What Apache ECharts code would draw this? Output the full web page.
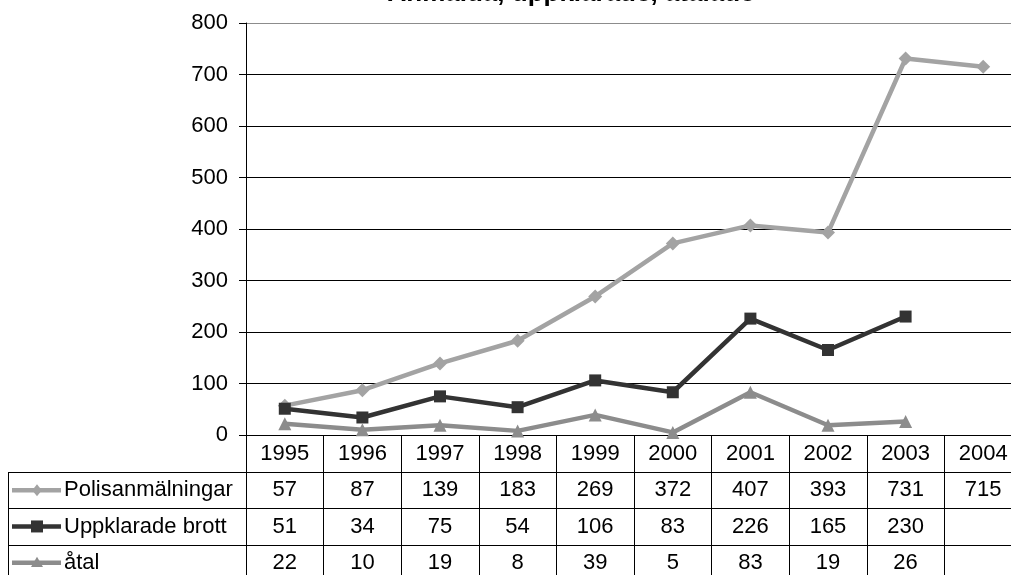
<!DOCTYPE html>
<html>
<head>
<meta charset="utf-8">
<script src="https://cdn.jsdelivr.net/npm/echarts@6/dist/echarts.min.js"></script>
<style>
  html, body { margin: 0; padding: 0; background: #fff; }
  #chart { width: 1011px; height: 575px; }
</style>
</head>
<body>
<div id="chart"></div>
<script>
// Anmälda, uppklarade och åtalade brott per år
const years = ['1995','1996','1997','1998','1999','2000','2001','2002','2003','2004'];
const polisanmalningar = [57, 87, 139, 183, 269, 372, 407, 393, 731, 715];
const uppklarade = [51, 34, 75, 54, 106, 83, 226, 165, 230, null];
const atal = [22, 10, 19, 8, 39, 5, 83, 19, 26, null];
const yTicks = [0, 100, 200, 300, 400, 500, 600, 700, 800];

const FONT = '"Liberation Sans", Arial, sans-serif';
const FS = 22;

const seriesDefs = [
  { name: 'Polisanmälningar', data: polisanmalningar, color: '#a3a3a3', symbol: 'diamond', size: 14 },
  { name: 'Uppklarade brott', data: uppklarade, color: '#333333', symbol: 'rect', size: 12 },
  { name: 'åtal', data: atal, color: '#8c8c8c', symbol: 'triangle', size: 13 }
];

const chart = echarts.init(document.getElementById('chart'), null, { renderer: 'canvas' });

const option = {
  animation: false,
  backgroundColor: '#ffffff',
  textStyle: { fontFamily: FONT },
  grid: { left: 246, top: 23, width: 776, height: 412, containLabel: false, outerBoundsMode: 'none' },
  xAxis: {
    type: 'category',
    data: years,
    boundaryGap: true,
    axisLine: { show: true, lineStyle: { color: '#000', width: 1 } },
    axisTick: { show: true, length: 145, inside: false, lineStyle: { color: '#000', width: 1 } },
    axisLabel: { show: true, margin: 8, fontSize: FS, color: '#000', fontFamily: FONT, interval: 0 },
    splitLine: { show: false }
  },
  yAxis: {
    type: 'value',
    min: 0,
    max: 800,
    interval: 100,
    axisLine: { show: true, lineStyle: { color: '#000', width: 1 } },
    axisTick: { show: true, length: 7, lineStyle: { color: '#000' } },
    axisLabel: { margin: 18, fontSize: FS, color: '#000', fontFamily: FONT },
    splitLine: {
      show: true,
      lineStyle: {
        width: 1,
        color: yTicks.map(v => v === 800 ? '#8c8c8c' : '#000')
      }
    }
  },
  series: seriesDefs.map(s => ({
    name: s.name,
    type: 'line',
    data: s.data,
    symbol: s.symbol,
    symbolSize: s.size,
    showSymbol: true,
    connectNulls: false,
    lineStyle: { color: s.color, width: 4.5 },
    itemStyle: { color: s.color },
    emphasis: { disabled: true }
  }))
};

chart.setOption(option);

// Data table below the plot, laid out on the category axis positions
function buildTable() {
  const c0 = chart.convertToPixel({ xAxisIndex: 0 }, years[0]);
  const c1 = chart.convertToPixel({ xAxisIndex: 0 }, years[1]);
  const step = c1 - c0;
  const xStart = c0 - step / 2;
  const xEnd = xStart + step * years.length;
  const yAxis0 = chart.convertToPixel({ yAxisIndex: 0 }, 0);
  const rowH = 36.3;
  const headerBottom = yAxis0 + 37;
  const tableLeft = 8;
  const els = [];
  const lineStyle = { stroke: '#000', lineWidth: 1 };

  // horizontal rules for the series rows
  for (let i = 0; i <= seriesDefs.length; i++) {
    const y = Math.round(headerBottom + i * rowH) + 0.5;
    els.push({ type: 'line', shape: { x1: tableLeft, y1: y, x2: xEnd + 20, y2: y }, style: lineStyle, silent: true });
  }
  // left border of the legend column
  els.push({ type: 'line', shape: { x1: tableLeft + 0.5, y1: Math.round(headerBottom), x2: tableLeft + 0.5, y2: 600 }, style: lineStyle, silent: true });

  seriesDefs.forEach((s, r) => {
    const yc = headerBottom + r * rowH + rowH / 2;
    // legend key: line with marker
    els.push({ type: 'line', shape: { x1: 12, y1: yc, x2: 61, y2: yc }, style: { stroke: s.color, lineWidth: 4.5 }, silent: true });
    const mx = 37, m = 6;
    if (s.symbol === 'diamond') {
      els.push({ type: 'polygon', shape: { points: [[mx, yc - m], [mx + m * 0.8, yc], [mx, yc + m], [mx - m * 0.8, yc]] }, style: { fill: s.color }, silent: true });
    } else if (s.symbol === 'rect') {
      els.push({ type: 'rect', shape: { x: mx - m, y: yc - m, width: 2 * m, height: 2 * m }, style: { fill: s.color }, silent: true });
    } else {
      els.push({ type: 'polygon', shape: { points: [[mx, yc - m], [mx + m, yc + m * 0.7], [mx - m, yc + m * 0.7]] }, style: { fill: s.color }, silent: true });
    }
    els.push({
      type: 'text', x: 64, y: yc, silent: true,
      style: { text: s.name, fontSize: FS, fontFamily: FONT, fill: '#000', verticalAlign: 'middle', align: 'left' }
    });
    s.data.forEach((v, i) => {
      if (v === null || v === undefined) return;
      const xc = chart.convertToPixel({ xAxisIndex: 0 }, years[i]);
      els.push({
        type: 'text', x: xc, y: yc, silent: true,
        style: { text: String(v), fontSize: FS, fontFamily: FONT, fill: '#000', align: 'center', verticalAlign: 'middle' }
      });
    });
  });

  // chart title
  els.push({
    type: 'text', x: 571, y: 7, silent: true,
    style: { text: 'Anmälda, uppklarade, åtalade', fontSize: 26, fontWeight: 'bold', fontFamily: FONT, fill: '#000', align: 'center', verticalAlign: 'bottom' }
  });

  chart.setOption({ graphic: { elements: els } });
}

buildTable();
</script>
</body>
</html>
